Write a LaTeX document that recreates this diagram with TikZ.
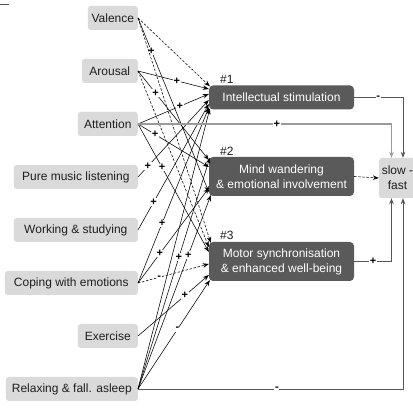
\documentclass[tikz,border=0pt]{standalone}
\usepackage{fontspec}
\setmainfont{Liberation Sans}
\usetikzlibrary{arrows.meta,calc}
\definecolor{lightbox}{HTML}{DADADA}
\definecolor{darkbox}{HTML}{5A5A5A}
\definecolor{txtdark}{HTML}{1E1E1E}
\definecolor{longline}{HTML}{555555}
\definecolor{attline}{HTML}{9A9A9A}
\begin{document}
\begin{tikzpicture}[x=1pt,y=-1pt,
  lbox/.style={fill=lightbox, rounded corners=3pt, minimum height=24pt, inner sep=0pt, text=txtdark, font=\fontsize{12}{14}\selectfont},
  dbox/.style={fill=darkbox, rounded corners=4pt, text=white, align=center, minimum width=145pt, inner sep=0pt, font=\fontsize{12}{15}\selectfont},
  numlbl/.style={anchor=south west, inner sep=0pt, text=txtdark, font=\fontsize{12}{14}\selectfont},
  conn/.style={draw=black, line width=0.55pt, -{Stealth[length=6pt,width=4.5pt]}},
  dconn/.style={conn, dash pattern=on 2.5pt off 1.6pt},
  lconn/.style={draw=longline, line width=0.8pt, -{Stealth[length=6pt,width=4.5pt]}},
  sgn/.style={fill=white, inner sep=0.6pt, text=black, font=\bfseries\fontsize{11}{11}\selectfont}
]
\useasboundingbox (0,0) rectangle (413,411);
\fill[white] (0,0) rectangle (413,411);
\draw[longline, line width=0.8pt] (0,4) -- (9,4);

% left nodes
\node[lbox, anchor=east, minimum width=50pt]  (val) at (138,18)  {Valence};
\node[lbox, anchor=east, minimum width=56pt]  (aro) at (138,71)  {Arousal};
\node[lbox, anchor=east, minimum width=60pt]  (att) at (138,124) {Attention};
\node[lbox, anchor=east, minimum width=124pt] (pml) at (138,177) {Pure music listening};
\node[lbox, anchor=east, minimum width=124pt] (wst) at (138,230) {Working \& studying};
\node[lbox, anchor=east, minimum width=133pt] (cop) at (138,283) {Coping with emotions};
\node[lbox, anchor=east, minimum width=60pt]  (exe) at (138,336) {Exercise};
\node[lbox, anchor=east, minimum width=132pt] (rel) at (138,389) {Relaxing \& fall. asleep};

% function boxes
\node[dbox, minimum height=24pt] (m1) at (281.5,97.5) {Intellectual stimulation};
\node[dbox, minimum height=39pt] (m2) at (281.5,176.5) {Mind wandering\\\& emotional involvement};
\node[dbox, minimum height=39pt] (m3) at (281.5,261.5) {Motor synchronisation\\\& enhanced well-being};
\node[numlbl] (n1) at (220,83.5) {\#1};
\node[numlbl] (n2) at (220,155.5) {\#2};
\node[numlbl] (n3) at (220,239.5) {\#3};

% outcome
\node[lbox, minimum width=37pt, minimum height=40pt, align=center, font=\fontsize{12}{15}\selectfont] (sf) at (397.5,178) {slow -\\fast};

% connectors into #1
\draw[dconn] (val.east) -- ($(m1.north west)+(1,1)$);
\draw[conn] (aro.east) -- node[sgn,pos=0.55]{+} ($(m1.west)+(0,-8.5)$);
\draw[conn] (att.east) -- node[sgn,pos=0.59]{+} ($(m1.west)+(0,-3.5)$);
\draw[conn] (pml.east) -- node[sgn,pos=0.14]{+} ($(m1.west)+(0,2.5)$);
\draw[conn] (wst.east) -- node[sgn,pos=0.22]{+} ($(m1.west)+(0,6.5)$);
\draw[conn] (cop.east) -- node[sgn,pos=0.34]{+} ($(m1.west)+(0,10)$);
\draw[conn] (rel.east) -- ($(m1.south west)+(1,-1)$);

% connectors into #2
\draw[conn] (val.east) -- node[sgn,pos=0.19]{+} ($(m2.west)+(0,15.5)$);
\draw[conn] (aro.east) -- node[sgn,pos=0.25]{+} ($(m2.west)+(0,-16.5)$);
\draw[conn] (att.east) -- node[sgn,pos=0.24]{+} ($(m2.west)+(0,-9.5)$);
\draw[conn] (cop.east) -- node[sgn,pos=0.31]{+} ($(m2.west)+(0,11.5)$);
\draw[conn] (rel.east) -- node[sgn,pos=0.57]{+} ($(m2.north west)+(1,1)$);
\draw[conn] (rel.east) -- node[sgn,pos=0.69]{+} ($(m2.south west)+(2,-1)$);

% connectors into #3
\draw[dconn] (val.east) -- ($(m3.north west)+(2,1)$);
\draw[dconn] (aro.east) -- ($(m3.west)+(0,-14.5)$);
\draw[conn] (att.east) -- node[sgn,pos=0.34]{+} ($(m3.west)+(0,-9.5)$);
\draw[dconn] (cop.east) -- node[sgn,pos=0.30]{-} ($(m3.west)+(0,2.5)$);
\draw[conn] (exe.east) -- node[sgn,pos=0.66]{+} ($(m3.west)+(0,13.5)$);
\draw[conn] (rel.east) -- node[sgn,pos=0.55]{-} ($(m3.south west)+(1,-1)$);

% connectors into slow - fast
\draw[attline, line width=1.2pt, -{Stealth[length=6pt,width=4.5pt]}] (att.east) -| node[sgn,pos=0.274]{+} ([xshift=-6pt]sf.north);
\draw[lconn] (m1.east) -| node[sgn,pos=0.245]{-} ([xshift=5.5pt]sf.north);
\draw[dconn] (m2.east) -- (sf.west);
\draw[lconn] (m3.east) -| node[sgn,pos=0.253]{+} ([xshift=-6pt]sf.south);
\draw[lconn] (rel.east) -| node[sgn,pos=0.262]{-} ([xshift=5.5pt]sf.south);
\end{tikzpicture}
\end{document}
